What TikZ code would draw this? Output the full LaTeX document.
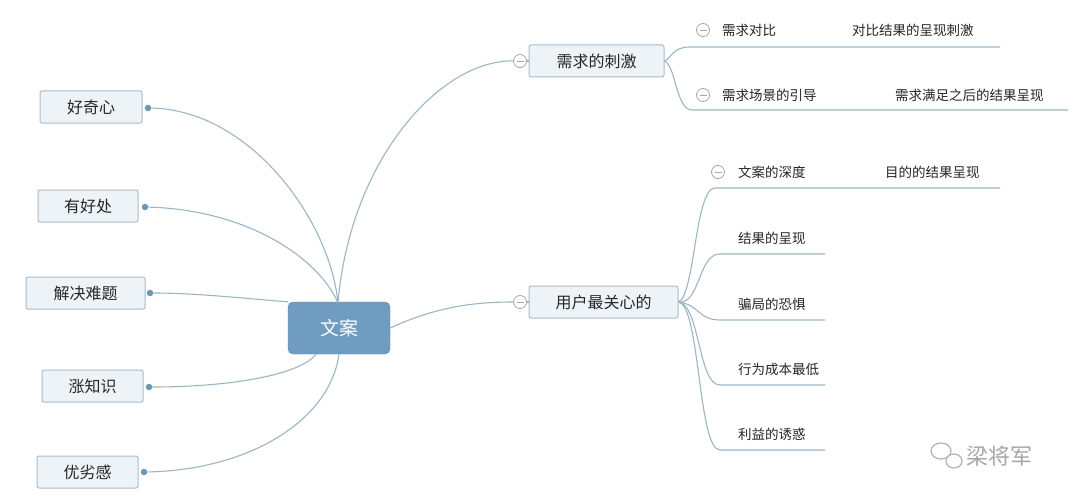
\documentclass[tikz,border=0pt]{standalone}
\usepackage{fontspec}
\setmainfont{Noto Sans CJK SC}
\definecolor{ln}{HTML}{9DB6C6}
\definecolor{bx}{HTML}{EEF3F8}
\definecolor{bd}{HTML}{A8BCCB}
\definecolor{ct}{HTML}{6F9CC0}
\definecolor{dt}{HTML}{6E97B3}
\begin{document}
\begin{tikzpicture}[x=1pt,y=-1pt,
  box/.style={draw=bd,fill=bx,rounded corners=2pt,line width=1pt,inner sep=0pt,font=\fontsize{16}{16}\selectfont,text=black!85},
  con/.style={draw=ln,line width=1.1pt},
  lbl/.style={anchor=west,inner sep=0pt,font=\fontsize{13.5}{13.5}\selectfont,text=black!85},
  mn/.style={circle,draw=gray!70,line width=0.8pt,minimum size=13pt,inner sep=0pt,path picture={\draw[gray!70,line width=0.8pt] ([xshift=-3.5pt]path picture bounding box.center)--([xshift=3.5pt]path picture bounding box.center);}},
  dot/.style={circle,fill=dt,minimum size=6.5pt,inner sep=0pt}]
\fill[white] (0,0) rectangle (1080,503);
\useasboundingbox (0,0) rectangle (1080,503);
% center
\node[fill=ct,draw=ct!85!black,rounded corners=5pt,minimum width=102pt,minimum height=52pt,text=white,font=\fontsize{19}{19}\selectfont] (c) at (339,328) {文案};
\coordinate (ctop) at (338,303);
% left
\node[box,minimum width=102pt,minimum height=32pt] (l1) at (91,107) {好奇心};
\node[box,minimum width=100pt,minimum height=32pt] (l2) at (88,206) {有好处};
\node[box,minimum width=119pt,minimum height=32pt] (l3) at (85.5,293) {解决难题};
\node[box,minimum width=101pt,minimum height=32pt] (l4) at (92.5,386) {涨知识};
\node[box,minimum width=101pt,minimum height=32pt] (l5) at (87.5,472) {优劣感};
\node[dot] (d1) at (148,108) {};
\node[dot] (d2) at (145,207) {};
\node[dot] (d3) at (150,293) {};
\node[dot] (d4) at (149,387) {};
\node[dot] (d5) at (144,472) {};
\draw[con] (d1) .. controls (250,110) and (330,220) .. (ctop);
\draw[con] (d2) .. controls (250,210) and (320,260) .. (ctop);
\draw[con] (d3) .. controls (200,293) and (260,300) .. (c.north west);
\draw[con] (d4) .. controls (230,387) and (300,375) .. ([xshift=-23pt]c.south);
\draw[con] (d5) .. controls (250,470) and (330,420) .. (c.south);
% right main
\node[box,minimum width=135pt,minimum height=32pt] (r1) at (596.5,61) {需求的刺激};
\node[box,minimum width=149pt,minimum height=32pt] (r2) at (603.5,302) {用户最关心的};
\node[mn] (m1) at (520,61) {};
\node[mn] (m2) at (520,302) {};
\draw[con] (ctop) .. controls (350,160) and (440,60) .. (m1);
\draw[con] (m1)--(r1);
\draw[con] (c.east) .. controls (440,305) and (480,302) .. (m2);
\draw[con] (m2)--(r2);
% sub of r1
\coordinate (a1) at (1000,47);
\coordinate (a2) at (1068,110);
\draw[con] (r1.east) .. controls (672,58) and (672,47) .. (690,47) -- (a1);
\draw[con] (r1.east) .. controls (676,66) and (676,110) .. (692,110) -- (a2);
\node[mn] (s1) at (703,30) {};
\node[lbl] (t1) at (722,30) {需求对比};
\node[lbl] (u1) at (852,30) {对比结果的呈现刺激};
\node[mn] (s2) at (703,95) {};
\node[lbl] (t2) at (722,95) {需求场景的引导};
\node[lbl] (u2) at (895,95) {需求满足之后的结果呈现};
% sub of r2
\coordinate (b0) at (1000,188);
\draw[con] (r2.east) .. controls (695,295) and (695,188) .. (715,188) -- (b0);
\foreach \y/\n in {254/b1,320/b2,385/b3,450/b4}{
  \coordinate (\n) at (825,\y);
  \draw[con] (r2.east) .. controls (700,305) and (698,\y) .. (720,\y) -- (\n);
}
\node[mn] (s3) at (718,172) {};
\node[lbl] (t3) at (738,172) {文案的深度};
\node[lbl] (u3) at (885,172) {目的的结果呈现};
\node[lbl] (t4) at (738,238) {结果的呈现};
\node[lbl] (t5) at (738,304) {骗局的恐惧};
\node[lbl] (t6) at (738,369) {行为成本最低};
\node[lbl] (t7) at (738,434) {利益的诱惑};
% watermark
\draw[gray!60,line width=1.2pt] (941,451) ellipse (10pt and 8pt);
\draw[gray!60,line width=1.2pt,fill=white] (954,461) ellipse (8pt and 7pt);
\node[anchor=west,inner sep=0pt,text=gray!70,font=\fontsize{22}{22}\selectfont] (wm) at (966,456) {梁将军};
\end{tikzpicture}
\end{document}
